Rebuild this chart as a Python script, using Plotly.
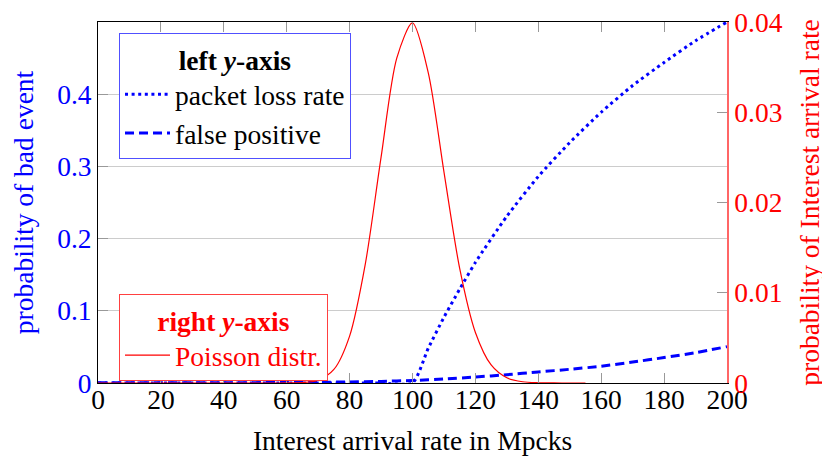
import plotly.graph_objects as go

# ---- data ----
rate_poisson = [0, 5, 10, 15, 20, 25, 30, 35, 40, 45, 50, 55, 60, 65, 70, 75, 80, 85, 90, 95,
                100, 105, 110, 115, 120, 125, 130, 135, 140, 145, 150, 155]
poisson_prob = [0, 0, 0, 0, 0, 0, 0, 0, 0, 0, 0, 0, 0.000005, 0.000045, 0.00031, 0.0015, 0.0052,
                0.0132, 0.0250, 0.0360, 0.0399, 0.0344, 0.0234, 0.0127, 0.0056, 0.0020, 0.00058,
                0.00014, 0.00003, 0.000005, 0.000001, 0]

rate_loss = [0, 10, 20, 30, 40, 50, 60, 70, 80, 90, 100, 105, 110, 115, 120, 130, 140, 150,
             160, 170, 180, 190, 200]
packet_loss = [0, 0, 0, 0, 0, 0, 0, 0, 0, 0, 0, 0.048, 0.091, 0.130, 0.167, 0.231, 0.286, 0.333,
               0.375, 0.412, 0.444, 0.474, 0.500]

rate_fp = [0, 10, 20, 30, 40, 50, 60, 70, 80, 90, 100, 110, 120, 130, 140, 150, 160, 170, 180, 190, 200]
false_positive = [0.0003, 0.0003, 0.0003, 0.0003, 0.0004, 0.0005, 0.0007, 0.0010, 0.0015, 0.0022,
                  0.0035, 0.0055, 0.0083, 0.0115, 0.0153, 0.0190, 0.0232, 0.0290, 0.0352, 0.0420, 0.0504]

x_ticks = [0, 20, 40, 60, 80, 100, 120, 140, 160, 180, 200]
y_ticks = [0, 0.1, 0.2, 0.3, 0.4]
y2_ticks = [0, 0.01, 0.02, 0.03, 0.04]

FONT = "Liberation Serif"
BLUE = "#0000ff"
RED = "#ff0000"
FS = 27.5

fig = go.Figure()

fig.add_trace(go.Scatter(
    x=rate_loss, y=packet_loss, mode="lines", name="packet loss rate",
    line=dict(color=BLUE, width=3, dash="3px,3.6px", shape="spline", smoothing=0.6),
    legend="legend",
))
fig.add_trace(go.Scatter(
    x=rate_fp, y=false_positive, mode="lines", name="false positive",
    line=dict(color=BLUE, width=3, dash="9px,5px", shape="spline", smoothing=0.6),
    legend="legend",
))
fig.add_trace(go.Scatter(
    x=rate_poisson, y=poisson_prob, mode="lines", name="Poisson distr.",
    line=dict(color=RED, width=1.2, shape="spline", smoothing=0.8),
    yaxis="y2", legend="legend2",
))

# page body has an 8px default margin: figure is 822x454 placed at (8, 8)
fig.update_layout(
    width=822, height=454,
    margin=dict(l=90, r=103, t=14, b=79, autoexpand=False),
    paper_bgcolor="white", plot_bgcolor="white",
    font=dict(family=FONT, size=FS, color="black"),
    xaxis=dict(
        range=[0, 200], tickvals=x_ticks, ticktext=[str(v) for v in x_ticks],
        ticks="inside", ticklen=10, tickcolor="#999999", tickwidth=1,
        showline=True, linecolor="black", linewidth=1, mirror="ticks",
        showgrid=False, zeroline=False, automargin=False, ticklabelstandoff=-8,
        ticklabeloverflow="allow",
        tickfont=dict(family=FONT, size=FS, color="black"),
        title=dict(text="Interest arrival rate in Mpcks", font=dict(family=FONT, size=FS, color="black"), standoff=16),
    ),
    yaxis=dict(
        range=[0, 0.5], tickvals=y_ticks, ticktext=["0", "0.1", "0.2", "0.3", "0.4"],
        ticks="inside", ticklen=10, tickcolor="#999999", tickwidth=1,
        showline=True, linecolor="black", linewidth=1,
        showgrid=True, gridcolor="#cccccc", gridwidth=1, zeroline=False, automargin=False,
        ticklabeloverflow="allow",
        tickfont=dict(family=FONT, size=FS, color=BLUE),
        title=dict(text="probability of bad event", font=dict(family=FONT, size=FS, color=BLUE), standoff=25),
    ),
    yaxis2=dict(
        range=[0, 0.0400001], tickvals=y2_ticks, ticktext=["0", "0.01", "0.02", "0.03", "0.04"],
        overlaying="y", side="right",
        ticks="inside", ticklen=10, tickcolor="#999999", tickwidth=1,
        showline=True, linecolor="#ff6666", linewidth=1.5,
        showgrid=False, zeroline=False, automargin=False,
        ticklabeloverflow="allow",
        tickfont=dict(family=FONT, size=FS, color=RED),
        title=dict(text="probability of Interest arrival rate", font=dict(family=FONT, size=FS, color=RED), standoff=18),
    ),
    legend=dict(
        x=0.0334, y=0.9695, xanchor="left", yanchor="top",
        bgcolor="white", bordercolor="#5050ff", borderwidth=1,
        font=dict(family=FONT, size=FS, color="black"),
        title=dict(text="<b>left <i>y</i>-axis</b>", side="top center",
                   font=dict(family=FONT, size=FS, color="black")),
        itemwidth=45, tracegroupgap=0,
    ),
    legend2=dict(
        x=0.0334, y=0.2465, xanchor="left", yanchor="top",
        bgcolor="white", bordercolor="#ff4040", borderwidth=1,
        font=dict(family=FONT, size=FS, color=RED),
        title=dict(text="<b>right <i>y</i>-axis</b>", side="top center",
                   font=dict(family=FONT, size=FS, color=RED)),
        itemwidth=45,
    ),
    showlegend=True,
)

fig.write_html("out.html")
